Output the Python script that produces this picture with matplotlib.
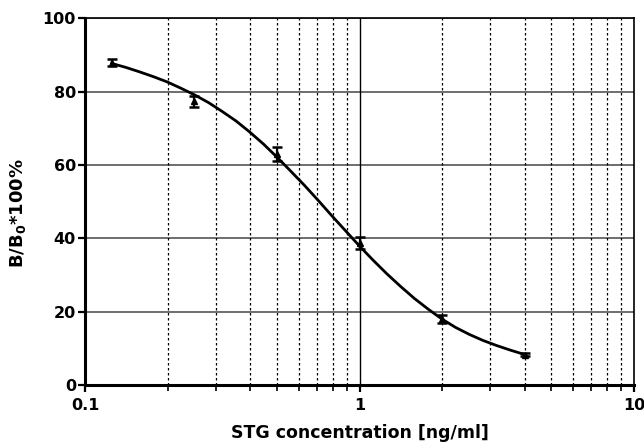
import matplotlib
matplotlib.use("Agg")
import matplotlib.pyplot as plt
from matplotlib.ticker import FixedLocator, NullFormatter

plt.rcParams['font.family'] = ['DejaVu Sans']
plt.rcParams['mathtext.fontset'] = 'custom'
plt.rcParams['mathtext.rm'] = 'DejaVu Sans:bold'
plt.rcParams['mathtext.bf'] = 'DejaVu Sans:bold'
plt.rcParams['mathtext.it'] = 'DejaVu Sans:bold'

# measured points
conc = [0.125, 0.25, 0.5, 1.0, 2.0, 4.0]
bb0 = [87.9, 77.4, 62.9, 38.8, 17.9, 8.2]
err = [0.9, 1.5, 1.9, 1.6, 1.1, 0.4]

# fitted curve
curve_x = [0.125, 0.141, 0.158, 0.178, 0.200, 0.224, 0.251, 0.282, 0.316,
           0.355, 0.398, 0.447, 0.501, 0.562, 0.631, 0.708, 0.794, 0.891,
           1.0, 1.122, 1.259, 1.413, 1.585, 1.778, 1.995, 2.239, 2.512,
           2.818, 3.162, 3.548, 4.0]
curve_y = [87.7, 86.6, 85.4, 84.05, 82.6, 80.9, 79.1, 77.0, 74.6,
           72.0, 69.0, 65.7, 62.1, 58.3, 54.4, 50.3, 46.1, 42.0,
           37.9, 34.0, 30.3, 26.85, 23.6, 20.7, 18.0, 15.7, 13.8,
           12.15, 10.75, 9.5, 8.3]

yticks = [0, 20, 40, 60, 80, 100]
xticks = [0.1, 1, 10]
xtick_labels = ['0.1', '1', '10']
minor_x = [0.2, 0.3, 0.4, 0.5, 0.6, 0.7, 0.8, 0.9, 2, 3, 4, 5, 6, 7, 8, 9]

fig = plt.figure(figsize=(6.44, 4.45), dpi=100)
ax = fig.add_axes([85/644, 1-385/445, (634-85)/644, (385-18.3)/445])
ax.set_xscale('log')
ax.set_xlim(0.1, 10)
ax.set_ylim(0, 100)

# grid
for v in yticks[1:]:
    ax.axhline(v, color='#555555', lw=1.2, zorder=1)
for v in minor_x:
    ax.axvline(v, color='black', lw=0.9, ls=(0, (2, 2)), zorder=1)
ax.axvline(1, color='black', lw=1.0, zorder=1)

ax.plot(curve_x, curve_y, color='black', lw=2.0, zorder=3,
        solid_joinstyle='round')
ax.errorbar(conc, bb0, yerr=err, fmt='^', color='black', ms=4.5,
            ecolor='black', elinewidth=1.6, capsize=3.5, capthick=1.8, zorder=4)

ax.set_xticks(xticks)
ax.set_xticklabels(xtick_labels)
ax.xaxis.set_minor_locator(FixedLocator(minor_x))
ax.xaxis.set_minor_formatter(NullFormatter())
ax.set_yticks(yticks)

for s in ['left', 'bottom']:
    ax.spines[s].set_linewidth(2.2)
for s in ['top', 'right']:
    ax.spines[s].set_linewidth(1.2)

ax.tick_params(axis='both', which='major', direction='out', length=5, width=1.6,
               labelsize=11.5)
ax.tick_params(axis='y', which='major', pad=1.5)
ax.tick_params(axis='x', which='major', pad=4)
ax.tick_params(axis='x', which='minor', direction='out', length=4, width=1.2)
for lab in ax.get_xticklabels() + ax.get_yticklabels():
    lab.set_fontweight('bold')

ax.set_xlabel('STG concentration [ng/ml]', fontsize=12.5, fontweight='bold', labelpad=8)
ax.set_ylabel(r'B/B$_0$*100%', fontsize=13, fontweight='bold')
ax.yaxis.set_label_coords(-0.104, 0.47)

fig.savefig('out.png', dpi=100)
